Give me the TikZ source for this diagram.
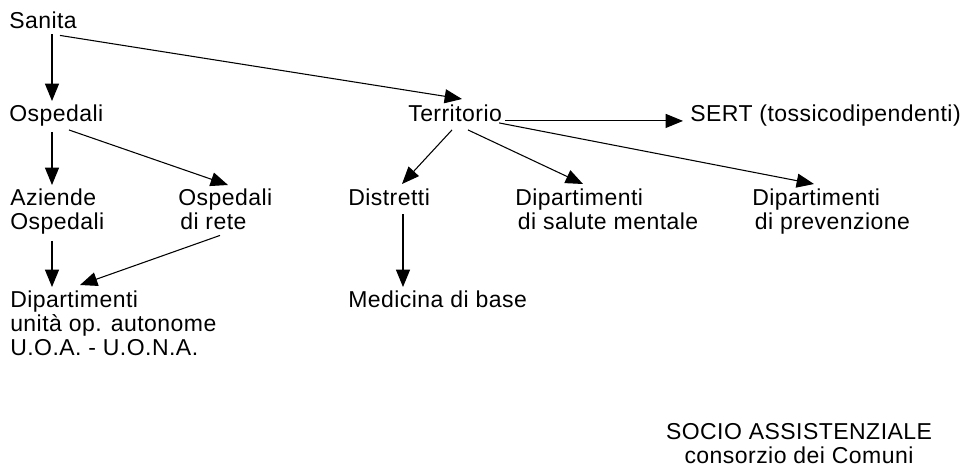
\documentclass[tikz,border=0pt]{standalone}
\usepackage{fontspec}
\setmainfont[LetterSpace=2]{Liberation Sans}
\usetikzlibrary{arrows.meta,calc}
\begin{document}
\begin{tikzpicture}[x=0.75pt,y=-0.75pt,
  lbl/.style={anchor=north west, inner sep=0pt, align=left, font=\fontsize{17.25pt}{18pt}\selectfont},
  ctr/.style={anchor=north, inner sep=0pt, align=center, font=\fontsize{17.25pt}{18pt}\selectfont},
  arr/.style={-{Triangle[length=13pt,width=10.5pt]}, line width=0.8pt}]
\useasboundingbox[fill=white] (0,0) rectangle (968,468);
% nodes
\node[lbl] (san)    at (9,12)    {Sanita};
\node[lbl] (osp)    at (9,105)   {Ospedali};
\node[lbl] (terr)   at (408,105) {Territorio};
\node[lbl] (sert)   at (690,105) {SERT (tossicodipendenti)};
\node[lbl] (az)     at (10,189)  {Aziende\\Ospedali};
\node[lbl] (rete)   at (178,189) {Ospedali\\\hspace*{1.5pt}di rete};
\node[lbl] (distr)  at (348,189) {Distretti};
\node[lbl] (salute) at (515,189) {Dipartimenti\\\hspace*{2pt}di salute mentale};
\node[lbl] (prev)   at (752,189) {Dipartimenti\\\hspace*{2pt}di prevenzione};
\node[lbl] (dip)    at (10,291)  {Dipartimenti\\unità op. autonome\\U.O.A. - U.O.N.A.};
\node[lbl] (med)    at (348,291) {Medicina di base};
\node[ctr] (socio)  at (799,423) {SOCIO ASSISTENZIALE\\consorzio dei Comuni};
% connectors
\draw[arr] ($(san.south west)+(43,5)$) -- ($(osp.north west)+(43,-4)$);
\draw[arr] ($(san.south west)+(51,6)$) -- ($(terr.north west)+(54,-6)$);
\draw[arr] ($(terr.base east)+(3,-1)$) -- ($(sert.base west)+(-7,-1)$);
\draw[arr] ($(terr.base west)+(44,8)$) -- ($(distr.north west)+(54,-5)$);
\draw[arr] ($(terr.base west)+(60,8)$) -- ($(salute.north west)+(68,-5)$);
\draw[arr] ($(terr.base east)+(-3,1)$) -- ($(prev.north west)+(62,-5)$);
\draw[arr] ($(osp.south west)+(43,5)$) -- ($(az.north west)+(42,-4)$);
\draw[arr] ($(osp.south west)+(60,3)$) -- ($(rete.north west)+(50,-4)$);
\draw[arr] ($(az.south west)+(42,6)$) -- ($(dip.north west)+(42,-4)$);
\draw[arr] ($(rete.south west)+(42,5)$) -- ($(dip.north west)+(70,-6)$);
\draw[arr] ($(distr.south west)+(55,8)$) -- ($(med.north west)+(55,-4)$);
\end{tikzpicture}
\end{document}
